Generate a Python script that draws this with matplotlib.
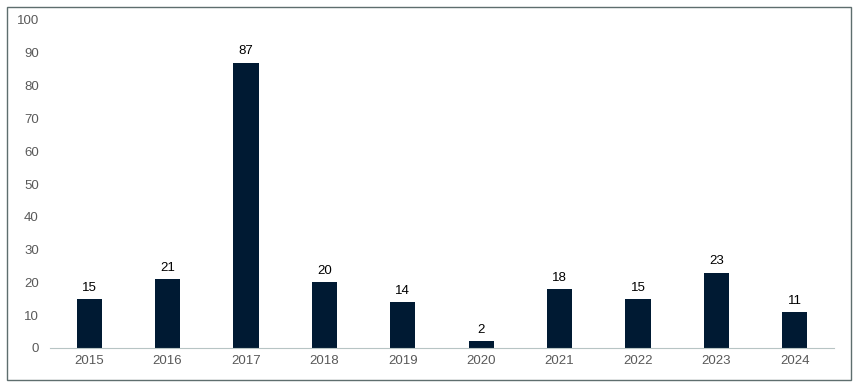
import matplotlib.pyplot as plt
from matplotlib.patches import Rectangle

years = ["2015", "2016", "2017", "2018", "2019", "2020", "2021", "2022", "2023", "2024"]
counts = [15, 21, 87, 20, 14, 2, 18, 15, 23, 11]
yticks = list(range(0, 101, 10))

plt.rcParams['font.family'] = ['Liberation Sans', 'DejaVu Sans']

fig = plt.figure(figsize=(8.58, 3.9), dpi=100)
ax = fig.add_axes([50 / 858, 1 - 348 / 390, 784 / 858, 328 / 390])

x = range(len(years))
bars = ax.bar(x, counts, width=0.32, color="#001a33")
for b, v in zip(bars, counts):
    ax.text(b.get_x() + b.get_width() / 2, v + 1.6, str(v), ha="center", va="bottom",
            fontsize=9.5, color="#000000")

ax.set_xlim(-0.5, len(years) - 0.5)
ax.set_ylim(0, 100)
ax.set_xticks(list(x))
ax.set_xticklabels(years)
ax.set_yticks(yticks)
ax.tick_params(axis="both", length=0, labelsize=9.5, labelcolor="#595959")
ax.tick_params(axis="x", pad=5)
ax.tick_params(axis="y", pad=8)
for s in ["top", "right", "left"]:
    ax.spines[s].set_visible(False)
ax.spines["bottom"].set_color("#b7c4c4")

fig.patches.append(Rectangle((7 / 858, 1 - 380 / 390), 844 / 858, 373 / 390,
                             transform=fig.transFigure, fill=False,
                             edgecolor="#5e6e6e", linewidth=1))

fig.savefig("out.png", dpi=100)
